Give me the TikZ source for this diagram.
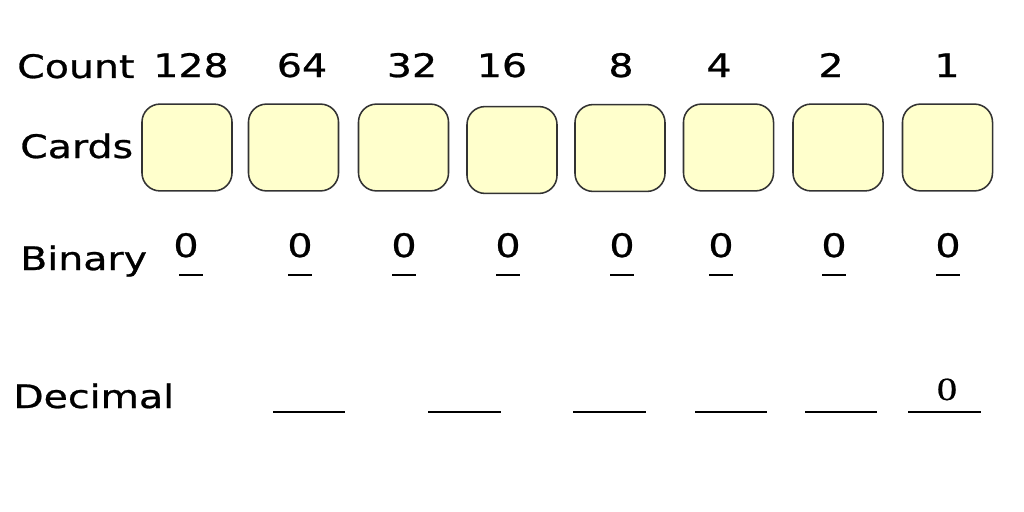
\documentclass[tikz,border=0pt]{standalone}
\usepackage{fontspec}
\newfontfamily\slidefont[FakeStretch=1.22, FakeBold=0.8]{DejaVu Sans}
\newfontfamily\numfont[FakeStretch=1.25, FakeBold=0.6]{Liberation Serif}
\definecolor{cardfill}{HTML}{FFFFCC}
\definecolor{carddraw}{HTML}{333333}

\begin{document}
\begin{tikzpicture}[x=0.025cm, y=-0.025cm,
	label text/.style={anchor=base west, inner sep=0pt, font=\slidefont\fontsize{23}{27}\selectfont},
	count text/.style={anchor=base, inner sep=0pt, font=\slidefont\fontsize{23}{27}\selectfont},
	card/.style={draw=carddraw, fill=cardfill, line width=1.1pt, rounded corners=0.45cm,
		minimum width=2.25cm, minimum height=2.17cm, inner sep=0pt},
	blank/.style={line width=1.3pt, black}]

	\useasboundingbox[fill=white] (0,0) rectangle (1024,512);

	% Row labels
	\node[label text] (count) at (17,78) {Count};
	\node[label text] (cards) at (20,158) {Cards};
	\node[label text] (binary) at (20,270) {Binary};
	\node[label text] (decimal) at (13,408) {Decimal};

	% Counts above the cards
	\node[count text] (n128) at (191,77) {128};
	\node[count text] (n64) at (302,77) {64};
	\node[count text] (n32) at (412,77) {32};
	\node[count text] (n16) at (502,77) {16};
	\node[count text] (n8) at (621,77) {8};
	\node[count text] (n4) at (719,77) {4};
	\node[count text] (n2) at (831,77) {2};
	\node[count text] (n1) at (947,77) {1};

	% Cards
	\node[card] (c128) at (187,147.5) {};
	\node[card] (c64) at (293.5,147.5) {};
	\node[card] (c32) at (403.5,147.5) {};
	\node[card] (c16) at (512,150) {};
	\node[card] (c8) at (620,148) {};
	\node[card] (c4) at (728.5,147.5) {};
	\node[card] (c2) at (838,147.5) {};
	\node[card] (c1) at (947.5,147.5) {};

	% Binary digits
	\node[count text] (b128) at (186,257) {0};
	\node[count text] (b64) at (300,257) {0};
	\node[count text] (b32) at (404,257) {0};
	\node[count text] (b16) at (508,257) {0};
	\node[count text] (b8) at (622,257) {0};
	\node[count text] (b4) at (721,257) {0};
	\node[count text] (b2) at (834,257) {0};
	\node[count text] (b1) at (948,257) {0};
	\draw[blank] (179,275) -- (203,275);
	\draw[blank] (288,275) -- (312,275);
	\draw[blank] (392,275) -- (416,275);
	\draw[blank] (496,275) -- (520,275);
	\draw[blank] (610,275) -- (634,275);
	\draw[blank] (709,275) -- (733,275);
	\draw[blank] (822,275) -- (846,275);
	\draw[blank] (936,275) -- (960,275);

	% Decimal blanks
	\draw[blank] (273,412) -- (345,412);
	\draw[blank] (428,412) -- (501,412);
	\draw[blank] (573,412) -- (646,412);
	\draw[blank] (695,412) -- (767,412);
	\draw[blank] (805,412) -- (877,412);
	\draw[blank] (908,412) -- (981,412);
	\node[anchor=base, inner sep=0pt, font=\numfont\fontsize{23}{26}\selectfont] (d1) at (947,400) {0};
\end{tikzpicture}
\end{document}
